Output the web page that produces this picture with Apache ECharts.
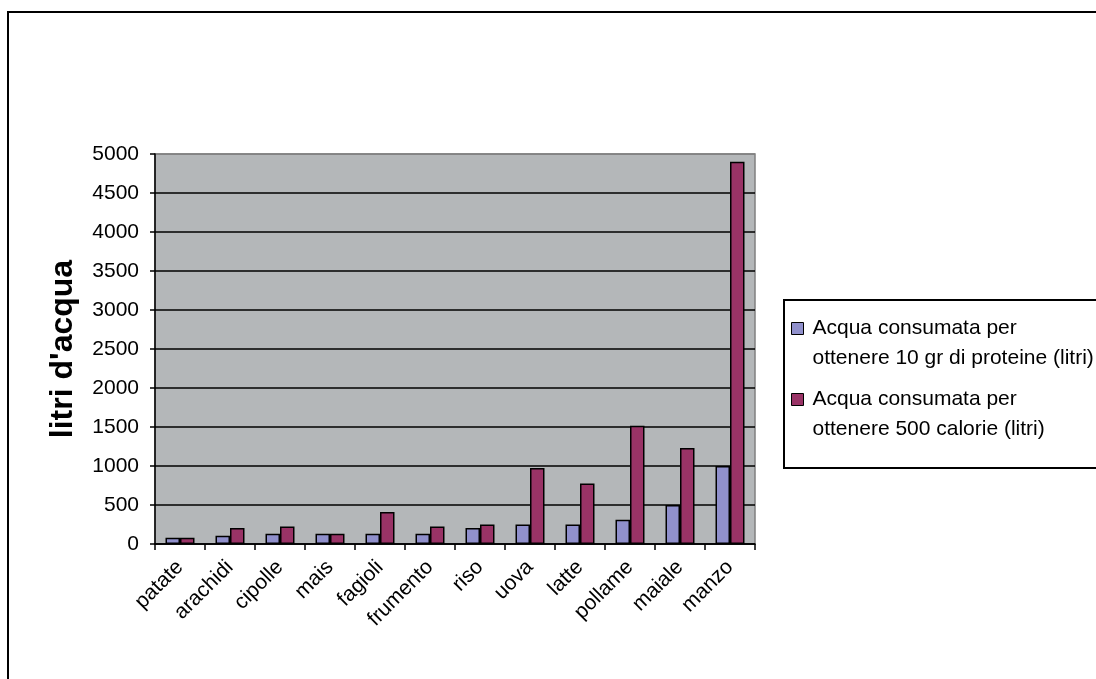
<!DOCTYPE html>
<html>
<head>
<meta charset="utf-8">
<script src="https://cdn.jsdelivr.net/npm/echarts@6/dist/echarts.min.js"></script>
<style>
  html, body { margin: 0; padding: 0; background: #fff; }
  #chart { width: 1096px; height: 679px; }
</style>
</head>
<body>
<div id="chart"></div>
<script>
// Water consumption per food type (litres)
const categories = ['patate', 'arachidi', 'cipolle', 'mais', 'fagioli', 'frumento', 'riso', 'uova', 'latte', 'pollame', 'maiale', 'manzo'];
const proteine = [80, 105, 130, 130, 130, 130, 205, 250, 250, 310, 500, 1000];
const calorie = [80, 205, 225, 130, 410, 225, 250, 975, 775, 1515, 1230, 4900];
const seriesNames = [
  'Acqua consumata per\nottenere 10 gr di proteine (litri)',
  'Acqua consumata per\nottenere 500 calorie (litri)'
];
const yTicks = { min: 0, max: 5000, interval: 500 };
const yTitle = "litri d'acqua";

const FONT = '"Liberation Sans", Arial, sans-serif';
const LEGEND_LINE = 30;
const LEGEND_ITEM_H = LEGEND_LINE * 2;

// every horizontal gridline is black except the top edge, which blends into the grey frame
const gridCount = (yTicks.max - yTicks.min) / yTicks.interval + 1;
const gridColors = [];
for (let i = 0; i < gridCount; i++) gridColors.push(i === gridCount - 1 ? '#808080' : '#000000');

// legend marker: a 12px square sitting beside the first text line of a two-line entry
// (the two bare move-to points stretch the path box to the full entry height)
const sq = LEGEND_LINE / 2 - 6;
const legendIcon = 'path://M0,0 M12,' + LEGEND_ITEM_H + ' M0,' + sq + ' h12 v12 h-12 Z';

const chart = echarts.init(document.getElementById('chart'), null, { renderer: 'canvas' });

chart.setOption({
  animation: false,
  backgroundColor: '#ffffff',
  color: ['#9090cc', '#993366'],
  graphic: [
    {
      type: 'rect', z: -10,
      shape: { x: 8, y: 12, width: 1100, height: 700 },
      style: { fill: 'none', stroke: '#000', lineWidth: 2 }
    },
    {
      type: 'rect', z: -10,
      shape: { x: 784, y: 300, width: 330, height: 168 },
      style: { fill: '#fff', stroke: '#000', lineWidth: 2 }
    }
  ],
  grid: {
    left: 155, top: 154, width: 600, height: 390,
    show: true,
    backgroundColor: '#b4b7b9',
    borderColor: '#808080',
    borderWidth: 1.5
  },
  legend: {
    orient: 'vertical',
    left: 791,
    top: 313,
    padding: 0,
    itemWidth: 12,
    itemHeight: LEGEND_ITEM_H,
    itemGap: 10,
    icon: legendIcon,
    itemStyle: { borderColor: '#000', borderWidth: 1 },
    textStyle: {
      fontFamily: FONT,
      fontSize: 21,
      color: '#000',
      lineHeight: LEGEND_LINE,
      padding: [0, 0, 0, 4]
    }
  },
  xAxis: {
    type: 'category',
    data: categories,
    axisLine: { lineStyle: { color: '#000', width: 1.5 } },
    axisTick: { show: true, length: 6, alignWithLabel: false, lineStyle: { color: '#000', width: 1.5 } },
    axisLabel: {
      rotate: 45,
      interval: 0,
      margin: 20,
      fontFamily: FONT,
      fontSize: 21,
      color: '#000'
    }
  },
  yAxis: {
    type: 'value',
    min: yTicks.min,
    max: yTicks.max,
    interval: yTicks.interval,
    name: yTitle,
    nameLocation: 'middle',
    nameRotate: 90,
    nameGap: 76,
    nameTextStyle: { fontFamily: FONT, fontSize: 32, fontWeight: 'bold', color: '#000' },
    axisLine: { show: true, lineStyle: { color: '#000', width: 1.5 } },
    axisTick: { show: true, length: 5, lineStyle: { color: '#000', width: 1.5 } },
    axisLabel: {
      margin: 16,
      fontFamily: FONT,
      fontSize: 21,
      color: '#000',
      formatter: function (v) { return String(v); }
    },
    splitLine: { show: true, lineStyle: { color: gridColors, width: 1.5 } }
  },
  series: [
    {
      name: seriesNames[0],
      type: 'bar',
      data: proteine,
      barWidth: 14.5,
      barGap: '0%',
      itemStyle: { borderColor: '#000', borderWidth: 1.5 }
    },
    {
      name: seriesNames[1],
      type: 'bar',
      data: calorie,
      barWidth: 14.5,
      barGap: '0%',
      itemStyle: { borderColor: '#000', borderWidth: 1.5 }
    }
  ]
});
</script>
</body>
</html>
